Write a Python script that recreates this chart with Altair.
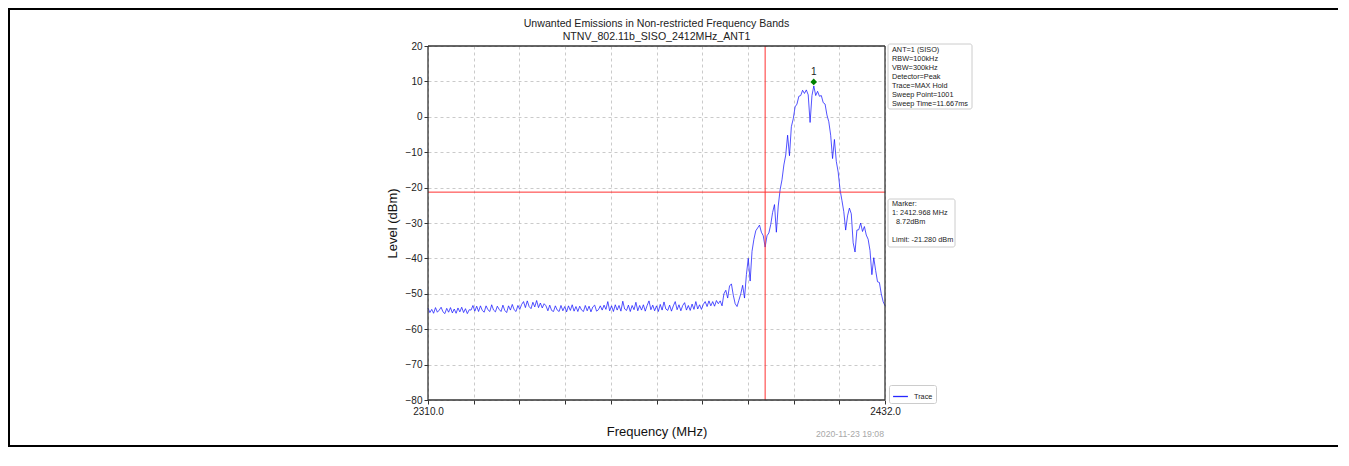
import altair as alt
import pandas as pd

# ---------------- data ----------------
title_lines = ["Unwanted Emissions in Non-restricted Frequency Bands",
               "NTNV_802.11b_SISO_2412MHz_ANT1"]
x_title = "Frequency (MHz)"
y_title = "Level (dBm)"

freq_start = 2310.0
freq_stop = 2432.0
freq_step = 0.5  # sweep grid (MHz)

levels = [
    # 2310 - 2321
    -54.0, -55.3, -54.4, -55.5, -53.9, -55.2, -54.6, -53.8, -55.1, -55.6, -54.1, -55.2,
    -53.9, -55.4, -54.3, -55.5, -54.0, -55.1, -53.8, -55.3, -54.2, -55.6, -54.5,
    # 2321.5 - 2334.5
    -54.6, -53.3, -54.9, -53.5, -55.0, -53.4, -54.7, -55.2, -53.4, -54.5, -55.0, -53.1,
    -54.6, -55.1, -53.5, -54.4, -55.0, -53.2, -54.7, -55.3, -53.4, -54.6, -53.0, -54.5,
    -55.0, -53.3, -54.4,
    # 2335 - 2341
    -53.0, -52.2, -53.9, -52.0, -53.6, -54.2, -52.4, -53.7, -51.9, -53.9, -52.6, -54.0, -52.8,
    # 2341.5 - 2356
    -53.4, -54.8, -53.2, -54.7, -55.0, -53.4, -54.6, -55.0, -53.3, -54.8, -53.6, -55.1,
    -53.4, -54.7, -53.1, -54.9, -53.6, -55.0, -53.5, -54.6, -55.0, -53.3, -54.8, -53.5,
    -55.1, -53.7, -53.2, -54.9, -54.5, -53.4,
    # 2356.5 - 2383
    -54.6, -53.2, -54.4, -52.2, -54.8, -53.4, -55.0, -53.1, -54.6, -53.3, -54.9, -52.1,
    -54.3, -54.7, -53.2, -55.0, -53.3, -54.5, -52.4, -54.8, -53.3, -54.6, -53.1, -54.9,
    -53.3, -52.0, -54.5, -53.2, -54.8, -53.4, -55.0, -53.0, -54.6, -52.3, -54.3, -54.7,
    -53.2, -54.9, -53.4, -52.2, -54.5, -53.1, -54.8, -53.3, -52.5, -54.6, -53.3, -54.7,
    -52.9, -54.4, -52.2, -54.3, -53.1, -54.4,
    # 2383.5 - 2387.5
    -53.0, -52.2, -53.6, -52.0, -53.4, -52.2, -53.5, -51.9, -52.8,
    # 2388 - 2399.5
    -52.0, -53.4, -50.0, -49.0, -51.2, -47.8, -47.2, -50.4, -52.8, -53.6, -51.8, -50.0,
    -47.6, -51.2, -44.6, -40.0, -46.4, -38.0, -34.6, -32.2, -31.4, -30.6, -32.6, -33.6,
    # 2400 - 2411.5
    -36.8, -33.6, -32.8, -30.4, -27.0, -24.8, -32.6, -25.2, -20.6, -17.8, -13.6, -10.8,
    -5.2, -11.0, -2.8, -0.6, 2.8, 3.6, 5.8, 6.0, 7.5, 6.6, 7.6, 6.2,
    # 2412 - 2423.5
    -1.6, 6.0, 8.72, 6.0, 7.2, 5.8, 6.0, 4.0, 3.6, 0.5, -1.4, -5.2,
    -11.8, -6.4, -12.6, -15.6, -20.6, -23.6, -26.8, -32.0, -28.0, -25.8, -27.4, -35.6,
    # 2424 - 2432
    -38.2, -32.0, -31.9, -30.0, -32.4, -31.0, -33.4, -34.6, -37.8, -44.6, -39.8, -43.4,
    -46.6, -46.8, -50.0, -52.2, -53.4,
]

x_ticks = [2310.0, 2322.2, 2334.4, 2346.6, 2358.8, 2371.0, 2383.2, 2395.4, 2407.6, 2419.8, 2432.0]
y_ticks = [-80, -70, -60, -50, -40, -30, -20, -10, 0, 10, 20]

limit_level = -21.28
band_edge = 2400.0
marker_freq = 2412.968
marker_level = 8.72
marker_label = "1"

info_lines = ["ANT=1 (SISO)", "RBW=100kHz", "VBW=300kHz", "Detector=Peak",
              "Trace=MAX Hold", "Sweep Point=1001", "Sweep Time=11.667ms"]
marker_head = ["Marker:", "1: 2412.968 MHz"]
marker_value = "8.72dBm"
limit_text = "Limit: -21.280 dBm"
legend_label = "Trace"
date_text = "2020-11-23 19:08"

FONT = "Liberation Sans"

# ---------------- tables ----------------
trace_df = pd.DataFrame({
    "freq": [freq_start + freq_step * i for i in range(len(levels))],
    "level": levels,
    "series": legend_label,
})
limit_df = pd.DataFrame({"level": [limit_level]})
edge_df = pd.DataFrame({"freq": [band_edge]})
marker_df = pd.DataFrame({"freq": [marker_freq], "level": [marker_level], "label": [marker_label]})
one_row = pd.DataFrame({"k": [0]})

x_scale = alt.Scale(domain=[freq_start, freq_stop], nice=False, zero=False)
y_scale = alt.Scale(domain=[-80, 20], nice=False, zero=False)

x_axis = alt.Axis(values=x_ticks, title=x_title, grid=True,
                  labelExpr="(datum.value < 2310.01 || datum.value > 2431.99) ? format(datum.value, '.1f') : ''",
                  labelFlush=False, labelOverlap=False, titlePadding=9,
                  titleFontWeight="normal", titleFontSize=13)
y_axis = alt.Axis(values=y_ticks, title=y_title, grid=True, format="d", titlePadding=6,
                  labelOverlap=False, titleFontWeight="normal", titleFontSize=13)


def X(field):
    return alt.X(field, type="quantitative", scale=x_scale, axis=x_axis)


def Y(field):
    return alt.Y(field, type="quantitative", scale=y_scale, axis=y_axis)


trace = alt.Chart(trace_df).mark_line(strokeWidth=0.8, opacity=0.9).encode(
    x=X("freq"), y=Y("level"),
    color=alt.Color("series:N", scale=alt.Scale(range=["#1010ff"]),
                    legend=alt.Legend(title=None, orient="none", legendX=461, legendY=339,
                                      symbolType="stroke", symbolSize=220, symbolStrokeWidth=1.3,
                                      labelFontSize=7.3, labelFont=FONT, labelColor="#222",
                                      strokeColor="#cccccc", fillColor="white", padding=3,
                                      cornerRadius=2, labelOffset=5)),
)

limit_rule = alt.Chart(limit_df).mark_rule(color="#ff3030", strokeWidth=1).encode(y=Y("level"))
edge_rule = alt.Chart(edge_df).mark_rule(color="#ff3030", strokeWidth=1).encode(x=X("freq"))

marker_pt = alt.Chart(marker_df).mark_point(shape="diamond", filled=True, color="#008000",
                                            size=45, opacity=1, yOffset=-4).encode(
    x=X("freq"), y=Y("level"))
marker_txt = alt.Chart(marker_df).mark_text(fontSize=10, font=FONT, color="#222", dy=-14,
                                            baseline="middle").encode(
    x=X("freq"), y=Y("level"), text="label:N")


# annotation boxes (pixel positions relative to plot area)
def box(x1, x2, y1, y2):
    return alt.Chart(one_row).mark_rect(fill="white", stroke="#cccccc", strokeWidth=1,
                                        cornerRadius=2).encode(
        x=alt.value(x1), x2=alt.value(x2), y=alt.value(y1), y2=alt.value(y2))


def lines_text(lines, x, y, size=7.3, color="#222", align="left", baseline="top", lh=9.0):
    return alt.Chart(one_row).mark_text(font=FONT, fontSize=size, color=color, align=align,
                                        baseline=baseline, lineHeight=lh).encode(
        x=alt.value(x), y=alt.value(y), text=alt.value(lines))


# plot-area spines, drawn above the grid
def spine(x1, x2, y1, y2):
    return alt.Chart(one_row).mark_rule(color="#333333", strokeWidth=1.3).encode(
        x=alt.value(x1), x2=alt.value(x2), y=alt.value(y1), y2=alt.value(y2))


spines = [spine(0, 457, 0, 0), spine(0, 457, 354, 354), spine(0, 0, 0, 354), spine(457, 457, 0, 354)]

title_txt = lines_text(title_lines, 228.5, -27, size=10.6, color="#222", align="center", lh=12.5)
info_box = box(460, 544, -2, 63)
info_txt = lines_text(info_lines, 464, 0)
mk_box = box(460, 527, 153, 201)
mk_head = lines_text(marker_head, 464, 154)
mk_val = lines_text(marker_value, 468, 172)
mk_lim = lines_text(limit_text, 464, 190)
date_lbl = lines_text(date_text, 422, 388, size=8.7, color="#a8a8a8", align="center", baseline="middle")

frame = alt.Chart(one_row).mark_rect(fill=None, stroke="black", strokeWidth=2).encode(
    x=alt.value(-419), x2=alt.value(912), y=alt.value(-37), y2=alt.value(400))

chart = alt.layer(
    frame, trace, limit_rule, edge_rule, *spines, marker_pt, marker_txt, title_txt,
    info_box, info_txt, mk_box, mk_head, mk_val, mk_lim, date_lbl,
).properties(
    width=457, height=354,
    background="white",
    autosize=alt.AutoSizeParams(type="none"),
    padding={"left": 420, "top": 38, "right": 453, "bottom": 56},
).configure_view(
    strokeWidth=0,
).configure_axis(
    domain=False, tickColor="#333", tickSize=4, tickWidth=1,
    labelFont=FONT, labelFontSize=10, labelColor="#222", labelPadding=2,
    titleFont=FONT, titleFontSize=13, titleFontWeight="normal", titleColor="#111",
    gridColor="#bdbdbd", gridDash=[3, 3], gridWidth=0.8,
)

chart.save("out.html", embed_options={"renderer": "svg", "actions": False})
